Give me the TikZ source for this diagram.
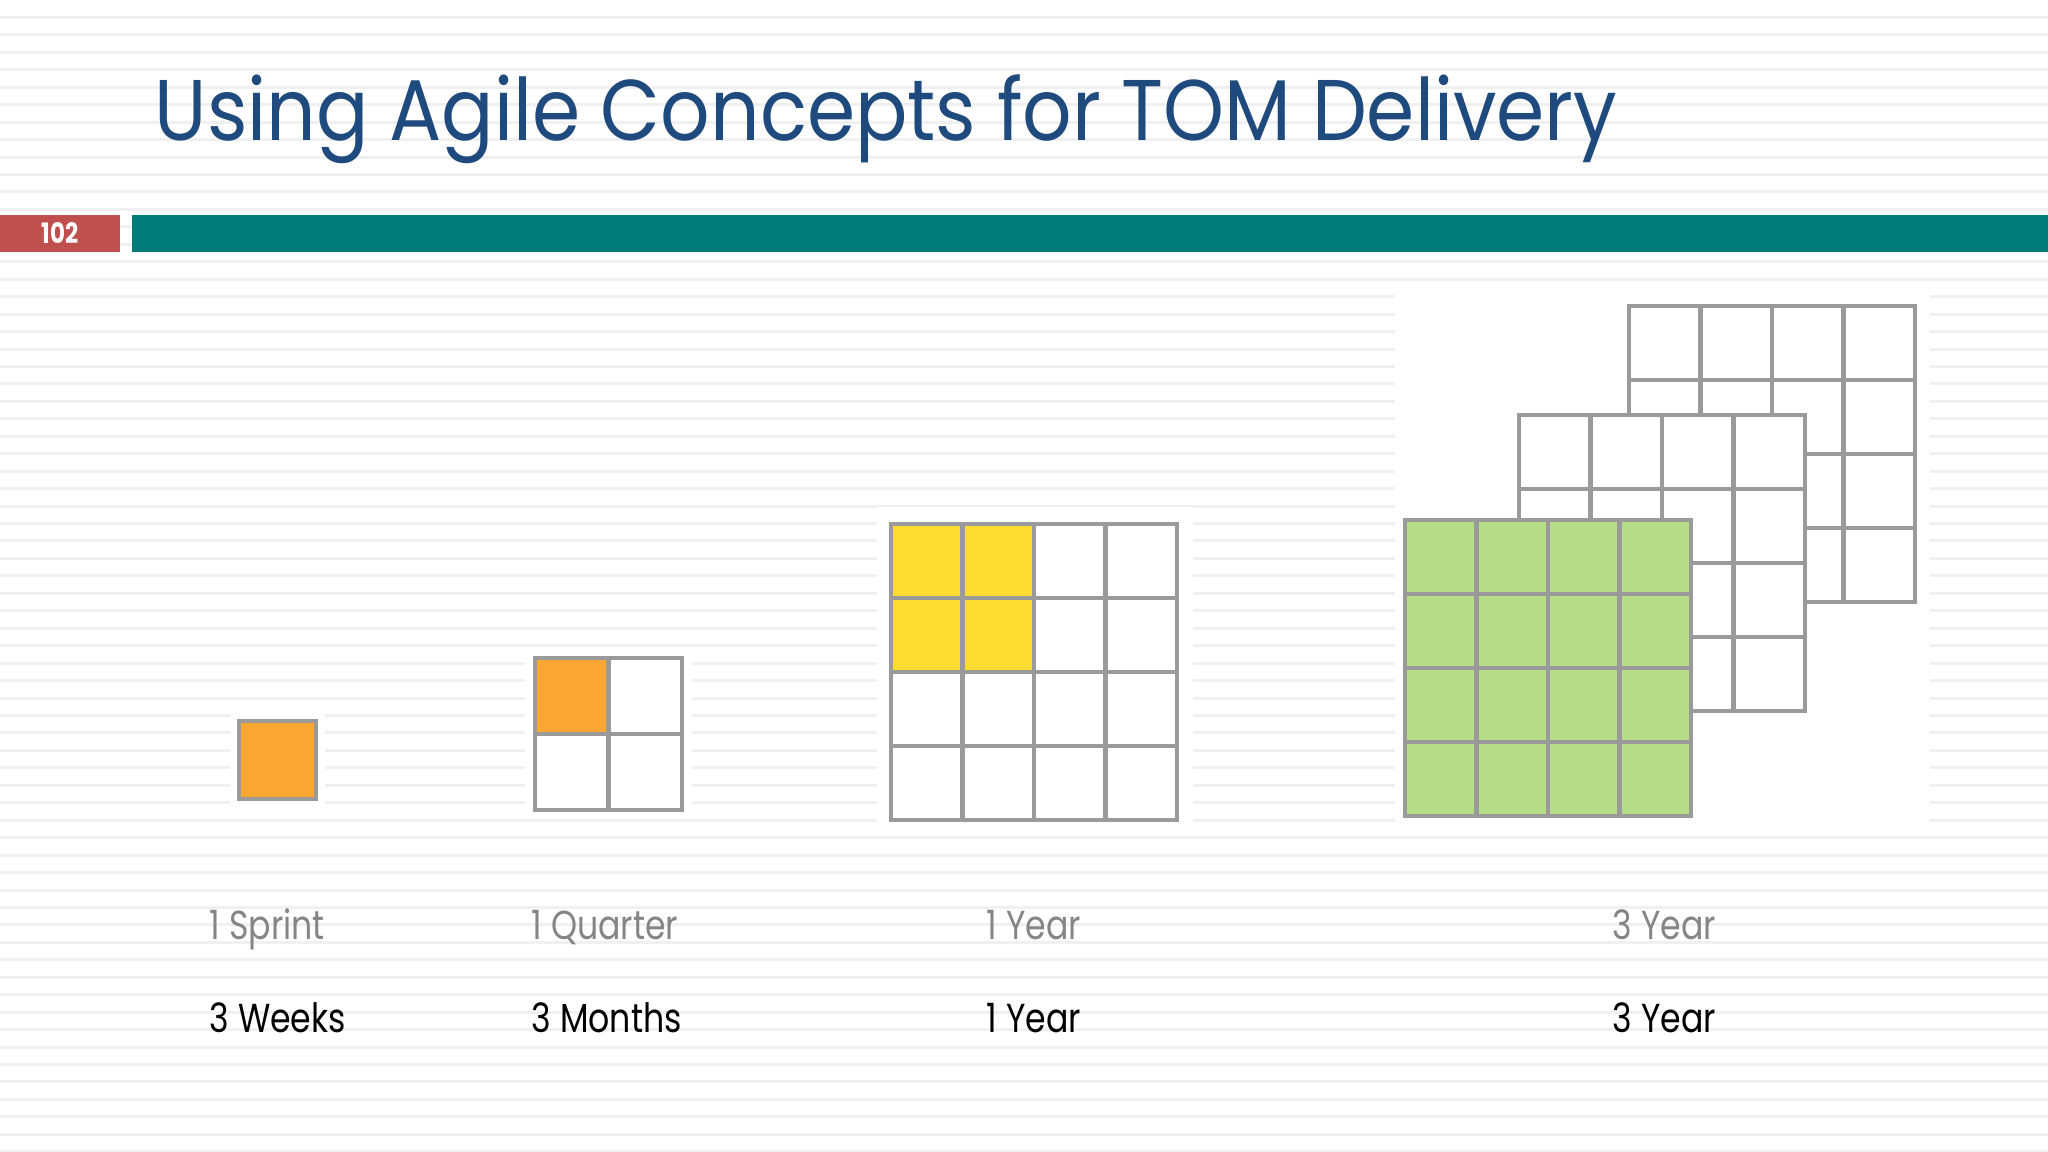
\documentclass[tikz,border=0pt]{standalone}
\usepackage{fontspec}
\setmainfont[FakeStretch=0.82]{Poppins}
\newfontfamily\titlefont[FakeStretch=0.9]{Poppins}
\definecolor{titleblue}{HTML}{1F4A7E}
\definecolor{barteal}{HTML}{007B78}
\definecolor{numred}{HTML}{C0504D}
\definecolor{gridgray}{HTML}{9A9A9A}
\definecolor{stripegray}{HTML}{F0F0F2}
\definecolor{sprintorange}{HTML}{F9A633}
\definecolor{yearyellow}{HTML}{FDDB30}
\definecolor{longgreen}{HTML}{B7DD88}
\definecolor{labelgray}{HTML}{858585}
\newcommand{\cw}{0.715cm}
\newcommand{\ch}{0.74cm}

\begin{document}
\begin{tikzpicture}[x=0.01cm, y=-0.01cm,
    cell/.style={draw=gridgray, line width=1.2pt, rectangle, anchor=north west, minimum width=\cw, minimum height=\ch, inner sep=0pt, outer sep=0pt, fill=white},
    label/.style={anchor=base west, inner sep=0pt, text=labelgray, font=\fontsize{11.5}{13}\selectfont},
    span/.style={anchor=base west, inner sep=0pt, text=black, font=\fontsize{11.5}{13}\selectfont}]
    \useasboundingbox (0,0) rectangle (2048,1152);
    \fill[white] (0,0) rectangle (2048,1152);

    % Background stripes
    \foreach \k in {0,...,65}
        \fill[stripegray] (0,16+17.45*\k) rectangle (2048,19+17.45*\k);

    % Title and bar
    \node[anchor=base west, inner sep=0pt, text=titleblue, font=\titlefont\fontsize{24.5}{28}\selectfont] (title) at (154,141) {Using Agile Concepts for TOM Delivery};
    \fill[numred] (0,215) rectangle (120,252);
    \node[text=white, font=\bfseries\fontsize{8}{9}\selectfont] (page) at (60,233) {102};
    \fill[barteal] (132,215) rectangle (2048,252);

    % White patches behind the grids
    \fill[white] (230,710) rectangle (325,808);
    \fill[white] (525,648) rectangle (692,818);
    \fill[white] (877,507) rectangle (1193,833);
    \fill[white] (1395,295) rectangle (1930,825);

    % 1 Sprint
    \node[cell, fill=sprintorange, minimum width=0.77cm, minimum height=0.78cm] (sprint) at (239,721) {};

    % 1 Quarter
    \foreach \i in {0,1}
        \foreach \j in {0,1}
            \node[cell, minimum width=0.735cm, minimum height=0.76cm] (quarter-\i-\j) at (535+73.5*\i,658+76*\j) {};
    \node[cell, fill=sprintorange, minimum width=0.735cm, minimum height=0.76cm] (quarter-0-0) at (535,658) {};

    % 1 Year
    \foreach \i in {0,...,3}
        \foreach \j in {0,...,3}
            \node[cell] (year-\i-\j) at (891+71.5*\i,524+74*\j) {};
    \foreach \i in {0,1}
        \foreach \j in {0,1}
            \node[cell, fill=yearyellow] (year-\i-\j) at (891+71.5*\i,524+74*\j) {};

    % 3 Year, back to front
    \foreach \i in {0,...,3}
        \foreach \j in {0,...,3}
            \node[cell] (back-\i-\j) at (1629+71.5*\i,306+74*\j) {};
    \foreach \i in {0,...,3}
        \foreach \j in {0,...,3}
            \node[cell] (mid-\i-\j) at (1519+71.5*\i,415+74*\j) {};
    \foreach \i in {0,...,3}
        \foreach \j in {0,...,3}
            \node[cell, fill=longgreen] (front-\i-\j) at (1405+71.5*\i,520+74*\j) {};

    % Labels
    \node[label] (lab-sprint) at (209,939) {1 Sprint};
    \node[label] (lab-quarter) at (531,939) {1 Quarter};
    \node[label] (lab-year) at (986,939) {1 Year};
    \node[label] (lab-three) at (1612,939) {3 Year};

    \node[span] (span-sprint) at (209,1032) {3 Weeks};
    \node[span] (span-quarter) at (531,1032) {3 Months};
    \node[span] (span-year) at (986,1032) {1 Year};
    \node[span] (span-three) at (1612,1032) {3 Year};

\end{tikzpicture}
\end{document}
